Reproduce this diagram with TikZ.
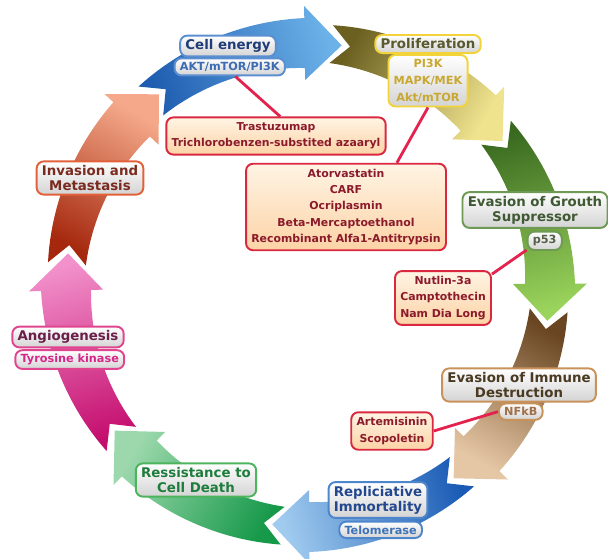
\documentclass[tikz,border=0pt]{standalone}
\usepackage{fontspec}
\setmainfont{DejaVu Sans}
\usetikzlibrary{positioning}

% arrow colours (tail / head)
\definecolor{bluedark}{HTML}{1F5DB0}
\definecolor{bluelight}{HTML}{6CB2E8}
\definecolor{olivedark}{HTML}{6B6020}
\definecolor{olivelight}{HTML}{EFE38E}
\definecolor{greendark}{HTML}{3A6A20}
\definecolor{greenlight}{HTML}{9BD45C}
\definecolor{browndark}{HTML}{694521}
\definecolor{brownlight}{HTML}{E6C7A5}
\definecolor{navydark}{HTML}{1A5BB5}
\definecolor{navylight}{HTML}{A0CBEF}
\definecolor{mintdark}{HTML}{17994A}
\definecolor{mintlight}{HTML}{9CD8AC}
\definecolor{pinkdark}{HTML}{C40E6E}
\definecolor{pinklight}{HTML}{F291CB}
\definecolor{orangedark}{HTML}{A5280E}
\definecolor{orangelight}{HTML}{F5A98A}
% label colours
\definecolor{cellEdge}{HTML}{5B8FD0}
\definecolor{cellText}{HTML}{1F3C78}
\definecolor{cellSub}{HTML}{3C6CB4}
\definecolor{prolEdge}{HTML}{F2D43A}
\definecolor{prolText}{HTML}{595A2E}
\definecolor{prolSub}{HTML}{C9A832}
\definecolor{growEdge}{HTML}{6F9A55}
\definecolor{growText}{HTML}{3F5A33}
\definecolor{growSub}{HTML}{55604A}
\definecolor{immEdge}{HTML}{C8925A}
\definecolor{immText}{HTML}{4A3A22}
\definecolor{immSub}{HTML}{A07048}
\definecolor{repEdge}{HTML}{4E86CC}
\definecolor{repText}{HTML}{24488E}
\definecolor{repSub}{HTML}{3D72B8}
\definecolor{resEdge}{HTML}{4DB45E}
\definecolor{resText}{HTML}{1E7D3C}
\definecolor{angEdge}{HTML}{E0458F}
\definecolor{angText}{HTML}{6B1E4A}
\definecolor{angSub}{HTML}{D6268A}
\definecolor{invEdge}{HTML}{E2603A}
\definecolor{invText}{HTML}{7A2A1E}
\definecolor{drugred}{HTML}{D9283F}
\definecolor{drugtext}{HTML}{8B1A2B}
\definecolor{peachtop}{HTML}{FFF4E4}
\definecolor{peachbot}{HTML}{FCD3A6}
\definecolor{linkred}{HTML}{E3224E}

\begin{document}
\begin{tikzpicture}[x=0.02cm, y=-0.02cm,
    hall/.style 2 args={draw=#1, line width=1.1pt, rounded corners=4pt,
      top color=white, bottom color=black!17, text=#2, align=center,
      inner xsep=3pt, inner ysep=2.2pt, font=\bfseries\fontsize{7.6}{8.6}\selectfont},
    sub/.style 2 args={hall={#1}{#2}, inner ysep=2.2pt,
      font=\bfseries\fontsize{6.4}{9.8}\selectfont},
    drug/.style={draw=drugred, line width=1.1pt, rounded corners=4pt,
      top color=peachtop, bottom color=peachbot, text=drugtext, align=center,
      inner xsep=3pt, inner ysep=3pt, font=\bfseries\fontsize{6.2}{9.3}\selectfont},
    link/.style={draw=linkred, line width=1.6pt}]
    \useasboundingbox (0,0) rectangle (608,558);

    % Ring of curved arrows
    \begin{scope}[shift={(308,285)}]
    \foreach \s/\e/\tc/\hc in {-130.5/-82/bluedark/bluelight, -84.5/-36.5/olivedark/olivelight,
        -39/8.5/greendark/greenlight, 6/53/browndark/brownlight, 50.5/98.5/navydark/navylight,
        96/143/mintdark/mintlight, 140.5/187.5/pinkdark/pinklight, 185/232/orangedark/orangelight} {
      \pgfmathsetmacro{\headang}{\e-8.8}
      \pgfmathsetmacro{\shadeang}{-(\s+\e)/2-180}
      \shade[bottom color=\tc, top color=\hc, shading angle=\shadeang]
        (\s:261) -- plot[domain=\s:\headang, samples=24] (\x:{261+6*(\x-\s)/(\headang-\s)})
        -- (\headang:279) -- (\e:242) -- (\headang:205)
        -- plot[domain=\headang:\s, samples=24] (\x:{223-6*(\x-\s)/(\headang-\s)})
        -- ({\s+4.5}:242) -- cycle;
    }
    \end{scope}

    % Hallmarks
    \node[hall={cellEdge}{cellText}] (cellE) at (228,46) {Cell energy};
    \node[sub={cellEdge}{cellSub}, below=0pt of cellE, xshift=1pt] (akt) {AKT/mTOR/PI3K};
    \node[hall={prolEdge}{prolText}] (prolif) at (428,44) {Proliferation};
    \node[sub={prolEdge}{prolSub}, below=0pt of prolif] (prolsub) {PI3K\\MAPK/MEK\\Akt/mTOR};
    \node[hall={growEdge}{growText}] (grouth) at (535,210) {Evasion of Grouth\\Suppressor};
    \node[sub={growEdge}{growSub}, below=1pt of grouth, xshift=5.5pt] (p53) {p53};
    \node[hall={immEdge}{immText}] (immune) at (519,385) {Evasion of Immune\\Destruction};
    \node[sub={immEdge}{immSub}, below=0pt of immune, xshift=1pt] (nfkb) {NFkB};
    \node[hall={repEdge}{repText}] (repl) at (378,500) {Repliciative\\Immortality};
    \node[sub={repEdge}{repSub}, below=1pt of repl, xshift=1.5pt] (telo) {Telomerase};
    \node[hall={resEdge}{resText}] (resist) at (196,480) {Ressistance to\\Cell Death};
    \node[hall={angEdge}{angText}] (angio) at (68,337) {Angiogenesis};
    \node[sub={angEdge}{angSub}, below=0.5pt of angio, xshift=1pt] (tyro) {Tyrosine kinase};
    \node[hall={invEdge}{invText}] (invasion) at (90,178) {Invasion and\\Metastasis};

    % Drugs
    \node[drug] (trast) at (276,136) {Trastuzumap\\Trichlorobenzen-substited azaaryl};
    \node[drug] (ator) at (346,207) {Atorvastatin\\CARF\\Ocriplasmin\\Beta-Mercaptoethanol\\Recombinant Alfa1-Antitrypsin};
    \node[drug] (nutlin) at (443,298) {Nutlin-3a\\Camptothecin\\Nam Dia Long};
    \node[drug] (artem) at (392,431) {Artemisinin\\Scopoletin};

    % Links
    \draw[link] (akt.-60) -- (trast.78);
    \draw[link] (prolsub.south) -- (ator.41);
    \draw[link] (p53.207) -- (nutlin.26);
    \draw[link] (nfkb.west) -- (artem.east);
\end{tikzpicture}
\end{document}
